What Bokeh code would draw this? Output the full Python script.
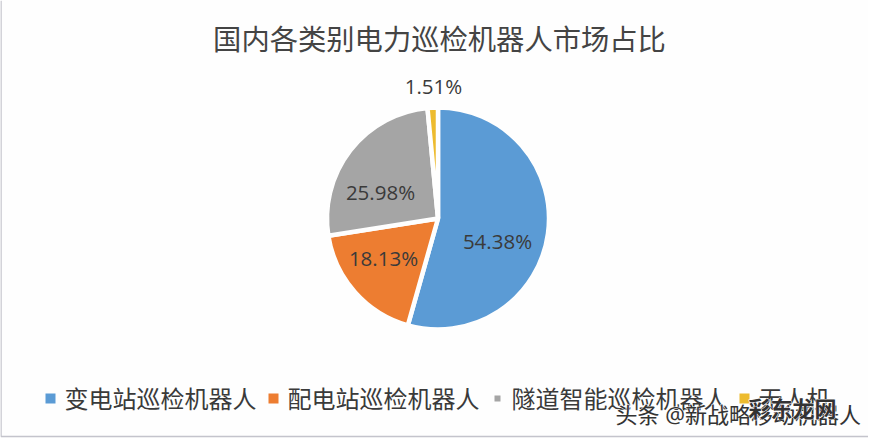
import math
from bokeh.core.properties import value
from bokeh.embed import file_html
from bokeh.models import ColumnDataSource, Range1d
from bokeh.plotting import figure
from bokeh.resources import INLINE

title_text = "国内各类别电力巡检机器人市场占比"
categories = ["变电站巡检机器人", "配电站巡检机器人", "隧道智能巡检机器人", "无人机"]
shares = [54.38, 18.13, 25.98, 1.51]
value_labels = ["54.38%", "18.13%", "25.98%", "1.51%"]
watermark_a = "头条 @新战略移动机器人"
watermark_b = "彩东龙网"

colors = ["#5B9BD5", "#ED7D31", "#A5A5A5", "#EDBB2E"]
FONT = value('"Open Sans", "Noto Sans CJK SC"')
H = 438
FIG_W, FIG_H = 868, 438


def Y(v):
    return H - v


p = figure(width=FIG_W, height=FIG_H, output_backend="svg", toolbar_location=None,
           x_range=Range1d(0, FIG_W), y_range=Range1d(H - FIG_H, H),
           x_axis_type=None, y_axis_type=None, min_border=0,
           background_fill_color="#FEFEFE", border_fill_color="#FEFEFE",
           outline_line_color=None)
p.grid.visible = False

# faint frame edge of the source picture
p.line(x=[0.5, 0.5, FIG_W], y=[H, Y(436), Y(436)], line_color="#C4C4CC", line_width=1.5)

# pie
total = sum(shares)
starts, ends, acc = [], [], 0.0
for v in shares:
    starts.append(math.pi / 2 - 2 * math.pi * acc / total)
    acc += v
    ends.append(math.pi / 2 - 2 * math.pi * acc / total)
pie = ColumnDataSource(dict(cat=categories, share=shares, start=starts, end=ends, color=colors))
p.wedge(x=437.5, y=Y(218), radius=111, start_angle="start", end_angle="end", direction="clock",
        fill_color="color", line_color="#FEFEFE", line_width=4.5, source=pie)

# value labels (best-fit placement, as in the source)
p.text(x=[497, 383, 380, 433], y=[Y(240), Y(257), Y(191), Y(85)], text=value_labels,
       text_font=FONT, text_font_size="20.5px", text_color="#3A3A3A",
       text_align="center", text_baseline="middle")

# title
p.text(x=[439], y=[Y(38)], text=[title_text], text_font=FONT, text_font_size="28.3px",
       text_color="#444444", text_align="center", text_baseline="middle")

# legend
legend_x = [64, 287, 511, 758]
p.scatter(x=[x - 14 for x in legend_x], y=[Y(398)] * 4, marker="square",
          size=[10, 10, 6, 10], fill_color=colors, line_color=None)
p.text(x=legend_x, y=[Y(398)] * 4, text=categories, text_font=FONT, text_font_size="24px",
       text_color="#3A3A3A", text_align="left", text_baseline="middle")

# stamps over the legend
for outline in ("#FFFFFF", None):
    p.text(x=[615], y=[Y(413)], text=[watermark_a], text_font=FONT, text_font_size="22px",
           text_color="#333333", text_outline_color=outline, text_align="left", text_baseline="middle")
for outline in ("#FFFFFF", None):
    p.text(x=[792], y=[Y(407)], text=[watermark_b], text_font=FONT, text_font_size="22px",
           text_font_style="bold", text_color="#333333", text_outline_color=outline,
           text_align="center", text_baseline="middle")

open("out.html", "w").write(file_html(p, INLINE))
